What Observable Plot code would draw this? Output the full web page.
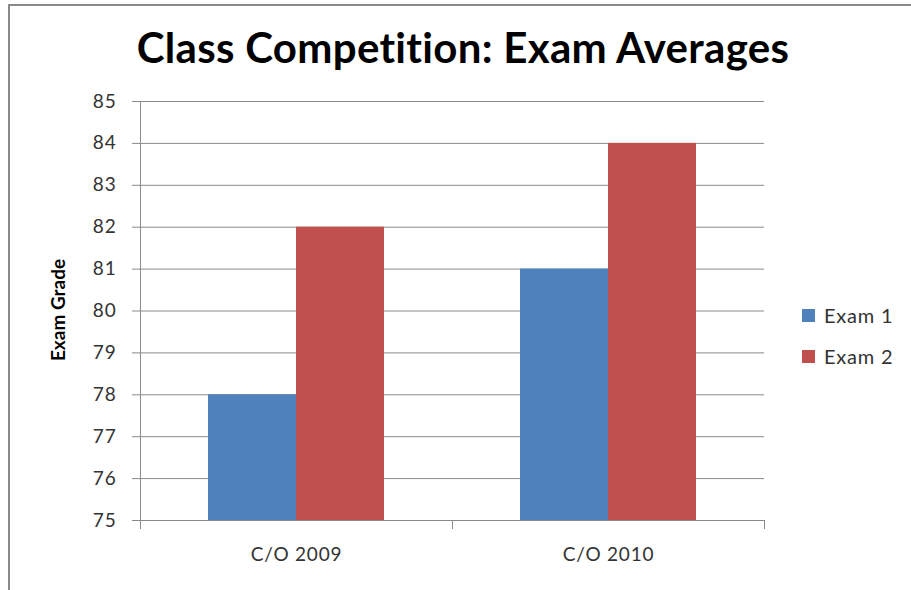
<!DOCTYPE html>
<html>
<head>
<meta charset="utf-8">
<script src="https://cdn.jsdelivr.net/npm/d3@7"></script>
<script src="https://cdn.jsdelivr.net/npm/@observablehq/plot@0.6"></script>
<style>
  body { margin: 0; background: #fff; }
  #wrap { position: relative; width: 911px; height: 590px; overflow: hidden; font-family: Lato, "Open Sans", sans-serif; }
  #border { position: absolute; left: 8px; top: 4px; width: 1200px; height: 1200px; border-left: 2px solid #8a8a8a; border-top: 2px solid #8a8a8a; box-sizing: border-box; }
  #chart { position: absolute; left: 0; top: 0; }
  #title { position: absolute; left: 463px; top: 26px; transform: translateX(-50%); white-space: nowrap; font-weight: bold; font-size: 42px; line-height: 1; color: #000; letter-spacing: 0.3px; }
  #ylabel { position: absolute; left: 57px; top: 310px; transform: translate(-50%, -50%) rotate(-90deg); white-space: nowrap; font-weight: bold; font-size: 19px; color: #000; }
  #legend { position: absolute; left: 802px; top: 305px; }
  .item { display: flex; align-items: center; height: 20px; margin-bottom: 21px; font-size: 20px; color: #333; letter-spacing: 0.8px; }
  .sw { width: 13px; height: 13px; margin-right: 9px; }
</style>
</head>
<body>
<div id="wrap">
  <div id="border"></div>
  <div id="chart"></div>
  <div id="title">Class Competition: Exam Averages</div>
  <div id="ylabel">Exam Grade</div>
  <div id="legend"></div>
</div>
<script>
const classes = ["C/O 2009", "C/O 2010"];
const exams = ["Exam 1", "Exam 2"];
const exam1 = [78, 81];
const exam2 = [82, 84];
const yTicks = [75, 76, 77, 78, 79, 80, 81, 82, 83, 84, 85];
const colors = ["#4F81BD", "#C0504D"];

const data = classes.flatMap((c, i) => [
  {cls: c, exam: exams[0], grade: exam1[i]},
  {cls: c, exam: exams[1], grade: exam2[i]}
]);

const W = 911, H = 590, mL = 139, mR = 147, mT = 101, mB = 70;
const innerH = H - mT - mB;

const chart = Plot.plot({
  width: W, height: H,
  marginLeft: mL, marginRight: mR, marginTop: mT, marginBottom: mB,
  style: {fontFamily: "Lato, 'Open Sans', sans-serif", fontSize: "19px", color: "#333", background: "transparent", letterSpacing: "0.8px"},
  fx: {domain: classes, padding: 0, label: null, axis: null},
  x: {domain: exams, paddingInner: 0, paddingOuter: 0.765, axis: null},
  y: {domain: [yTicks[0], yTicks[yTicks.length - 1]], label: null, axis: null},
  color: {domain: exams, range: colors},
  marks: [
    Plot.gridY(yTicks, {stroke: "#8a8a8a", strokeOpacity: 1, strokeWidth: 1}),
    Plot.barY(data, {fx: "cls", x: "exam", y1: yTicks[0], y2: "grade", fill: "exam"}),
    Plot.frame({anchor: "left", facetAnchor: "left", stroke: "#8a8a8a"}),
    Plot.frame({anchor: "left", stroke: "#8a8a8a", insetTop: innerH, insetBottom: -8}),
    Plot.frame({anchor: "right", facetAnchor: "right", stroke: "#8a8a8a", insetTop: innerH, insetBottom: -8}),
    Plot.axisY(yTicks, {tickSize: 8, tickPadding: 16, stroke: "#8a8a8a", fill: "#333", tickFormat: d => String(d), label: null}),
    Plot.axisFx({anchor: "bottom", tickSize: 0, tickPadding: 27, fill: "#333", label: null})
  ]
});
document.getElementById("chart").appendChild(chart);

const legend = document.getElementById("legend");
exams.forEach((e, i) => {
  const item = document.createElement("div");
  item.className = "item";
  const sw = document.createElement("div");
  sw.className = "sw";
  sw.style.background = colors[i];
  const t = document.createElement("span");
  t.textContent = e;
  item.appendChild(sw);
  item.appendChild(t);
  legend.appendChild(item);
});
</script>
</body>
</html>
